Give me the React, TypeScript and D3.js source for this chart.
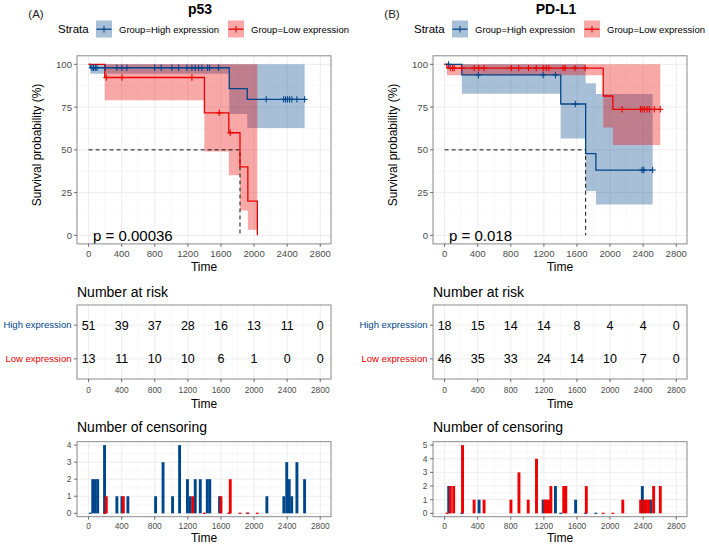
import React from "react";
import * as d3 from "d3";

const BLUE = "#00468B";
const RED = "#ED0000";
const FONT = "'Liberation Sans', Arial, Helvetica, sans-serif";
const BAND_ALPHA = 0.34;

const timeTicks = [0, 400, 800, 1200, 1600, 2000, 2400, 2800];
const timeMinor = [200, 600, 1000, 1400, 1800, 2200, 2600];
const survTicks = [0, 25, 50, 75, 100];
const survMinor = [12.5, 37.5, 62.5, 87.5];
const strataNames = ["High expression", "Low expression"];
const legendLabels = ["Group=High expression", "Group=Low expression"];

// ---------- p53 ----------
const p53HighTime = [0, 20, 1700, 1918];
const p53HighSurv = [100, 98.0, 85.8, 79.5];
const p53HighLower = [NaN, 94.5, 71.0, 62.8];
const p53HighUpper = [NaN, 100, 100, 100];
const p53HighEnd = 2611;
const p53HighCensor = [40, 60, 81, 101, 201, 342, 403, 463, 798, 878, 1007, 1088, 1189, 1249, 1289, 1330, 1370, 1438, 1462, 1571, 2147, 2357, 2381, 2405, 2429, 2457, 2518, 2611];

const p53LowTime = [0, 195, 1400, 1695, 1830, 1925, 2040];
const p53LowSurv = [100, 92.3, 71.6, 60.0, 40.0, 20.0, 0];
const p53LowLower = [NaN, 79.0, 49.1, 35.1, 14.6, 3.3, NaN];
const p53LowUpper = [NaN, 100, 100, 100, 100, 100, NaN];
const p53LowEnd = 2040;
const p53LowCensor = [214, 403, 1249, 1579, 1712];
const p53Median = 1830;
const p53P = "p = 0.00036";

const p53RiskHigh = [51, 39, 37, 28, 16, 13, 11, 0];
const p53RiskLow = [13, 11, 10, 10, 6, 1, 0, 0];

const p53CensHighTime = [20, 50, 80, 110, 193, 342, 403, 475, 810, 900, 1015, 1100, 1195, 1229, 1289, 1350, 1435, 1465, 1583, 1700, 1918, 2155, 2360, 2395, 2425, 2455, 2518, 2611];
const p53CensHighCount = [0, 2, 2, 2, 4, 1, 1, 1, 1, 3, 1, 4, 2, 1, 2, 2, 2, 2, 1, 0, 0, 1, 1, 3, 2, 1, 3, 2];
const p53CensLowTime = [195, 214, 420, 1260, 1400, 1600, 1695, 1712, 1830, 1925, 2040];
const p53CensLowCount = [0, 1, 1, 1, 0, 1, 0, 2, 0, 0, 0];
const p53CensTicks = [0, 1, 2, 3, 4];

// ---------- PD-L1 ----------
const pdl1HighTime = [0, 209, 1404, 1705, 1829];
const pdl1HighSurv = [100, 93.8, 76.8, 47.8, 38.2];
const pdl1HighLower = [NaN, 82.8, 56.7, 25.9, 18.1];
const pdl1HighUpper = [NaN, 100, 100, 88.9, 82.7];
const pdl1HighEnd = 2515;
const pdl1HighCensor = [48, 409, 1191, 1340, 1580, 2387, 2407, 2515];

const pdl1LowTime = [0, 28, 1917, 2034];
const pdl1LowSurv = [100, 97.8, 81.5, 73.7];
const pdl1LowLower = [NaN, 93.6, 63.0, 52.8];
const pdl1LowUpper = [NaN, 100, 100, 100];
const pdl1LowEnd = 2607;
const pdl1LowCensor = [68, 96, 116, 205, 357, 413, 477, 807, 895, 1015, 1108, 1192, 1228, 1260, 1433, 1457, 1577, 1698, 2146, 2367, 2387, 2415, 2447, 2475, 2535, 2607];
const pdl1Median = 1705;
const pdl1P = "p = 0.018";

const pdl1RiskHigh = [18, 15, 14, 14, 8, 4, 4, 0];
const pdl1RiskLow = [46, 35, 33, 24, 14, 10, 7, 0];

const pdl1CensHighTime = [50, 209, 417, 1191, 1340, 1404, 1584, 1705, 1829, 2390, 2495];
const pdl1CensHighCount = [2, 0, 1, 1, 2, 0, 1, 0, 0, 2, 1];
const pdl1CensLowTime = [28, 70, 110, 217, 357, 477, 802, 899, 1011, 1111, 1210, 1235, 1260, 1285, 1440, 1465, 1713, 1917, 2034, 2154, 2370, 2410, 2440, 2470, 2527, 2607];
const pdl1CensLowCount = [0, 2, 2, 5, 1, 1, 1, 3, 1, 4, 1, 1, 1, 2, 2, 2, 2, 0, 0, 1, 1, 1, 1, 1, 2, 2];
const pdl1CensTicks = [0, 1, 2, 3, 4, 5];

type Curve = {
  time: number[]; surv: number[]; lower: number[]; upper: number[];
  end: number; censor: number[]; color: string;
};

const GRID = "#EBEBEB";
const GRID_MINOR = "#F4F4F4";
const BORDER = "#8a8a8a";
const TICKTXT = "#4D4D4D";

function survAt(c: Curve, t: number) {
  let s = c.surv[0];
  for (let i = 0; i < c.time.length; i++) if (c.time[i] <= t) s = c.surv[i];
  return s;
}

function bandPoints(c: Curve) {
  const pts: { t: number; lo: number; hi: number }[] = [];
  c.time.forEach((t, i) => {
    if (!isNaN(c.lower[i])) pts.push({ t, lo: c.lower[i], hi: c.upper[i] });
  });
  const last = pts[pts.length - 1];
  pts.push({ t: c.end, lo: last.lo, hi: last.hi });
  return pts;
}

function xScale(dx: number) {
  return d3.scaleLinear().domain([-140, 2930]).range([77 + dx, 331 + dx]);
}

function VGrid({ x, y0, y1 }: any) {
  return (
    <g>
      {timeMinor.map((t) => (
        <line key={"m" + t} x1={x(t)} x2={x(t)} y1={y0} y2={y1} stroke={GRID_MINOR} strokeWidth={0.6} />
      ))}
      {timeTicks.map((t) => (
        <line key={"M" + t} x1={x(t)} x2={x(t)} y1={y0} y2={y1} stroke={GRID} strokeWidth={0.9} />
      ))}
    </g>
  );
}

function XAxis({ x, y, size, labelY, titleY }: any) {
  return (
    <g>
      {timeTicks.map((t) => (
        <g key={t}>
          <line x1={x(t)} x2={x(t)} y1={y} y2={y + 3} stroke="#333" strokeWidth={0.7} />
          <text x={x(t)} y={labelY} fontSize={size} fill={TICKTXT} textAnchor="middle" fontFamily={FONT}>{t}</text>
        </g>
      ))}
      <text x={(x.range()[0] + x.range()[1]) / 2} y={titleY} fontSize={12} fill="#000" textAnchor="middle" fontFamily={FONT}>Time</text>
    </g>
  );
}

function KMPanel({ dx, curves, median, pText, tag, title }: any) {
  const x = xScale(dx);
  const y = d3.scaleLinear().domain([-5, 105]).range([243.9, 55.8]);
  const [L, R] = x.range();
  const [B, T] = y.range();
  const line = d3.line<[number, number]>().x((d) => x(d[0])).y((d) => y(d[1])).curve(d3.curveStepAfter);
  const area = d3.area<{ t: number; lo: number; hi: number }>()
    .x((d) => x(d.t)).y0((d) => y(d.lo)).y1((d) => y(d.hi)).curve(d3.curveStepAfter);
  return (
    <g>
      <text x={36 + dx} y={18} fontSize={11.5} fill="#222" textAnchor="middle" fontFamily={FONT}>{tag}</text>
      <text x={200 + dx} y={13.5} fontSize={14} fontWeight="bold" fill="#000" textAnchor="middle" fontFamily={FONT}>{title}</text>
      <text x={58 + dx} y={33} fontSize={11.5} fill="#000" fontFamily={FONT}>Strata</text>
      {curves.map((c: Curve, i: number) => {
        const kx = (i === 0 ? 96 : 228) + dx;
        const lx = (i === 0 ? 119 : 251) + dx;
        return (
          <g key={i}>
            <rect x={kx} y={20.5} width={16} height={17} fill={c.color} fillOpacity={BAND_ALPHA} />
            <line x1={kx + 0.5} x2={kx + 15.5} y1={29.2} y2={29.2} stroke={c.color} strokeWidth={1.3} />
            <line x1={kx + 8} x2={kx + 8} y1={26} y2={32.4} stroke={c.color} strokeWidth={1.1} />
            <text x={lx} y={32.5} fontSize={9.5} fill="#000" fontFamily={FONT}>{legendLabels[i]}</text>
          </g>
        );
      })}
      <rect x={L} y={T} width={R - L} height={B - T} fill="#fff" />
      {survMinor.map((s) => (
        <line key={"sm" + s} x1={L} x2={R} y1={y(s)} y2={y(s)} stroke={GRID_MINOR} strokeWidth={0.6} />
      ))}
      <VGrid x={x} y0={T} y1={B} />
      {survTicks.map((s) => (
        <line key={"sM" + s} x1={L} x2={R} y1={y(s)} y2={y(s)} stroke={GRID} strokeWidth={0.9} />
      ))}
      {curves.map((c: Curve, i: number) => (
        <path key={"b" + i} d={area(bandPoints(c)) || ""} fill={c.color} fillOpacity={BAND_ALPHA} />
      ))}
      <path d={`M${x(0)},${y(50)}H${x(median)}V${y(0)}`} fill="none" stroke="#111" strokeWidth={1} strokeDasharray="4,3" />
      {curves.map((c: Curve, i: number) => {
        const pts: [number, number][] = c.time.map((t, j) => [t, c.surv[j]] as [number, number]);
        pts.push([c.end, c.surv[c.surv.length - 1]]);
        return <path key={"l" + i} d={line(pts) || ""} fill="none" stroke={c.color} strokeWidth={1.3} />;
      })}
      {curves.map((c: Curve, i: number) => (
        <g key={"c" + i} stroke={c.color} strokeWidth={1.1}>
          {c.censor.map((t, j) => {
            const cx = x(t), cy = y(survAt(c, t));
            return (
              <g key={j}>
                <line x1={cx - 3} x2={cx + 3} y1={cy} y2={cy} />
                <line x1={cx} x2={cx} y1={cy - 3.2} y2={cy + 3.2} />
              </g>
            );
          })}
        </g>
      ))}
      <text x={93 + dx} y={241.3} fontSize={15} fill="#000" fontFamily={FONT}>{pText}</text>
      <rect x={L} y={T} width={R - L} height={B - T} fill="none" stroke={BORDER} strokeWidth={1} />
      {survTicks.map((s) => (
        <g key={"yt" + s}>
          <line x1={L - 3} x2={L} y1={y(s)} y2={y(s)} stroke="#333" strokeWidth={0.7} />
          <text x={L - 5} y={y(s) + 3.4} fontSize={9.6} fill={TICKTXT} textAnchor="end" fontFamily={FONT}>{s}</text>
        </g>
      ))}
      <text transform={`translate(${37 + dx},${145}) rotate(-90)`} y={4} fontSize={12} fill="#000" textAnchor="middle" fontFamily={FONT}>Survival probability (%)</text>
      <XAxis x={x} y={B} size={9.6} labelY={257} titleY={271} />
    </g>
  );
}

function RiskPanel({ dx, high, low }: any) {
  const x = xScale(dx);
  const y = d3.scaleLinear().domain([0.4, 2.6]).range([379, 305]);
  const [L, R] = x.range();
  const [B, T] = y.range();
  const rows = [{ v: 2, vals: high, name: strataNames[0], color: BLUE }, { v: 1, vals: low, name: strataNames[1], color: RED }];
  return (
    <g>
      <text x={77 + dx} y={296.5} fontSize={14} fill="#000" fontFamily={FONT}>Number at risk</text>
      <rect x={L} y={T} width={R - L} height={B - T} fill="#fff" />
      <VGrid x={x} y0={T} y1={B} />
      {rows.map((r) => (
        <line key={r.v} x1={L} x2={R} y1={y(r.v)} y2={y(r.v)} stroke={GRID} strokeWidth={0.9} />
      ))}
      {rows.map((r) => (
        <g key={"r" + r.v}>
          {timeTicks.map((t, i) => (
            <text key={t} x={x(t)} y={y(r.v) + 4.5} fontSize={12.5} fill="#000" textAnchor="middle" fontFamily={FONT}>{r.vals[i]}</text>
          ))}
          <line x1={L - 3} x2={L} y1={y(r.v)} y2={y(r.v)} stroke="#333" strokeWidth={0.7} />
          <text x={L - 5.5} y={y(r.v) + 3.3} fontSize={9.5} fill={r.color} textAnchor="end" fontFamily={FONT}>{r.name}</text>
        </g>
      ))}
      <rect x={L} y={T} width={R - L} height={B - T} fill="none" stroke={BORDER} strokeWidth={1} />
      <XAxis x={x} y={B} size={8.4} labelY={393} titleY={407.5} />
    </g>
  );
}

function CensPanel({ dx, highT, highC, lowT, lowC, ticks }: any) {
  const x = xScale(dx);
  const maxV = ticks[ticks.length - 1];
  const pad = maxV * 0.05;
  const y = d3.scaleLinear().domain([-pad, maxV + pad]).range([516.7, 441.7]);
  const [L, R] = x.range();
  const [B, T] = y.range();
  const bw = 35;
  const halfTicks = ticks.slice(0, -1).map((v: number) => v + 0.5);
  const bars = (times: number[], counts: number[], color: string) =>
    times.map((t, i) => {
      const h = Math.max(y(0) - y(counts[i]), 1.2);
      return <rect key={color + i} x={x(t - bw / 2)} y={y(0) - h + (counts[i] === 0 ? 0.6 : 0)} width={x(bw) - x(0)} height={h} fill={color} />;
    });
  return (
    <g>
      <text x={77 + dx} y={431.5} fontSize={14} fill="#000" fontFamily={FONT}>Number of censoring</text>
      <rect x={L} y={T} width={R - L} height={B - T} fill="#fff" />
      {halfTicks.map((v: number) => (
        <line key={"h" + v} x1={L} x2={R} y1={y(v)} y2={y(v)} stroke={GRID_MINOR} strokeWidth={0.6} />
      ))}
      <VGrid x={x} y0={T} y1={B} />
      {ticks.map((v: number) => (
        <line key={"g" + v} x1={L} x2={R} y1={y(v)} y2={y(v)} stroke={GRID} strokeWidth={0.9} />
      ))}
      {bars(highT, highC, BLUE)}
      {bars(lowT, lowC, RED)}
      <rect x={L} y={T} width={R - L} height={B - T} fill="none" stroke={BORDER} strokeWidth={1} />
      {ticks.map((v: number) => (
        <g key={"t" + v}>
          <line x1={L - 3} x2={L} y1={y(v)} y2={y(v)} stroke="#333" strokeWidth={0.7} />
          <text x={L - 5.5} y={y(v) + 3} fontSize={8.4} fill={TICKTXT} textAnchor="end" fontFamily={FONT}>{v}</text>
        </g>
      ))}
      <XAxis x={x} y={B} size={8.4} labelY={529.3} titleY={541.7} />
    </g>
  );
}

export default function App() {
  const p53Curves: Curve[] = [
    { time: p53HighTime, surv: p53HighSurv, lower: p53HighLower, upper: p53HighUpper, end: p53HighEnd, censor: p53HighCensor, color: BLUE },
    { time: p53LowTime, surv: p53LowSurv, lower: p53LowLower, upper: p53LowUpper, end: p53LowEnd, censor: p53LowCensor, color: RED },
  ];
  const pdl1Curves: Curve[] = [
    { time: pdl1HighTime, surv: pdl1HighSurv, lower: pdl1HighLower, upper: pdl1HighUpper, end: pdl1HighEnd, censor: pdl1HighCensor, color: BLUE },
    { time: pdl1LowTime, surv: pdl1LowSurv, lower: pdl1LowLower, upper: pdl1LowUpper, end: pdl1LowEnd, censor: pdl1LowCensor, color: RED },
  ];
  return (
    <svg width={709} height={546} viewBox="0 0 709 546" style={{ position: "absolute", left: 0, top: 0, display: "block", background: "#fff" }}>
      <rect width={709} height={546} fill="#fff" />
      <KMPanel dx={0} curves={p53Curves} median={p53Median} pText={p53P} tag="(A)" title="p53" />
      <KMPanel dx={356} curves={pdl1Curves} median={pdl1Median} pText={pdl1P} tag="(B)" title="PD-L1" />
      <RiskPanel dx={0} high={p53RiskHigh} low={p53RiskLow} />
      <RiskPanel dx={356} high={pdl1RiskHigh} low={pdl1RiskLow} />
      <CensPanel dx={0} highT={p53CensHighTime} highC={p53CensHighCount} lowT={p53CensLowTime} lowC={p53CensLowCount} ticks={p53CensTicks} />
      <CensPanel dx={356} highT={pdl1CensHighTime} highC={pdl1CensHighCount} lowT={pdl1CensLowTime} lowC={pdl1CensLowCount} ticks={pdl1CensTicks} />
    </svg>
  );
}
